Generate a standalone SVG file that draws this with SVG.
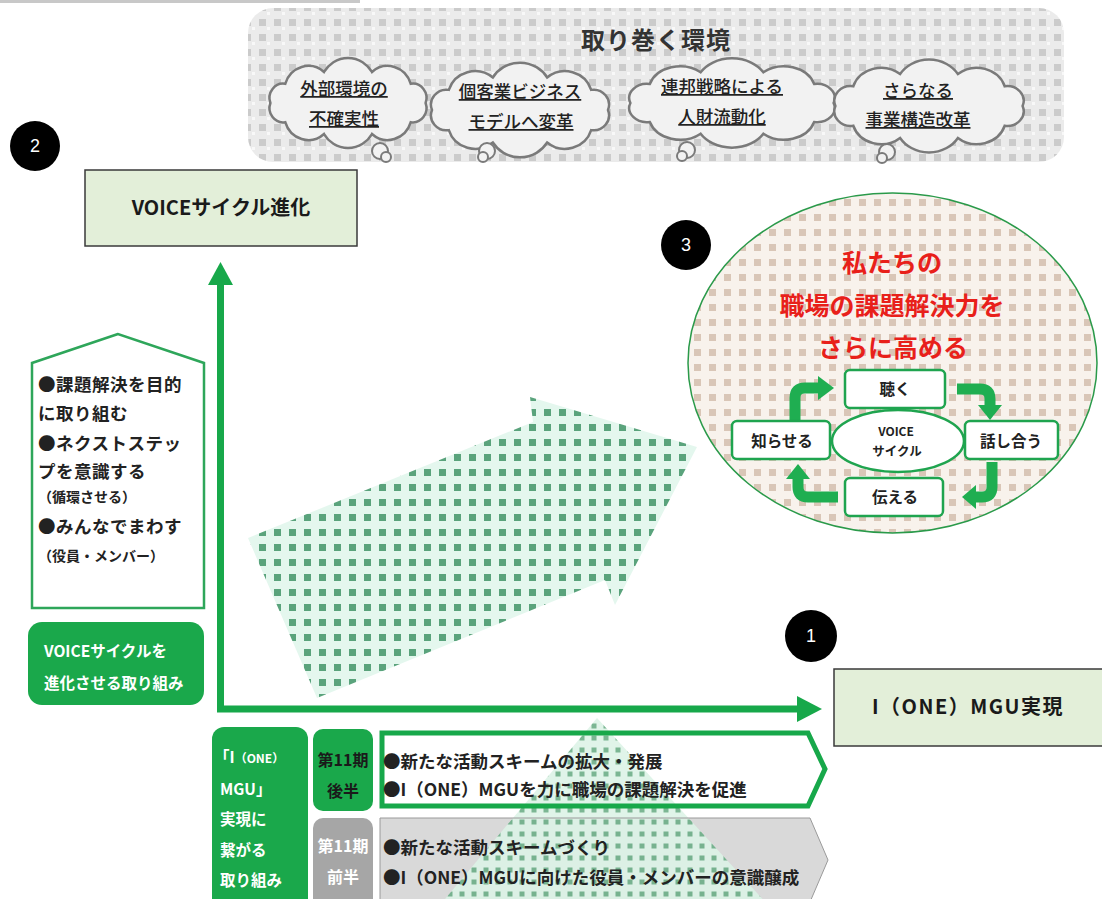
<svg xmlns="http://www.w3.org/2000/svg" width="1102" height="899" viewBox="0 0 1102 899">
<defs>
<style>
text{font-family:'Noto Sans CJK JP','Noto Sans CJK SC',sans-serif;}
.b{font-weight:bold}
.cl{fill:#f2f2f2;stroke:#7a7a7a;stroke-width:2.5}
.ct{font-size:17.5px;font-weight:500;fill:#222;text-anchor:middle;text-decoration:underline}
.num{fill:#000}
.numt{fill:#fff;font-size:18px;text-anchor:middle;font-family:'Liberation Sans',Arial,sans-serif}
.hl{fill:#e3efd9;stroke:#3a3a3a;stroke-width:1.5}
.hlt{font-size:20px;font-weight:bold;fill:#1a1a1a;text-anchor:middle}
.ax{fill:none;stroke:#17a84a;stroke-width:7}
.axh{fill:#17a84a}
.cy{fill:#fff;stroke:#1fa44f;stroke-width:2.5}
.cyt{font-size:15.5px;font-weight:bold;fill:#222;text-anchor:middle}
.ca{fill:none;stroke:#1fae51;stroke-width:11}
.cah{fill:#1fae51}
.red{fill:#e8201a;font-size:25px;font-weight:bold;text-anchor:middle}
.lt{font-size:17.5px;fill:#222;font-weight:bold;letter-spacing:0.5px}
.ls{font-size:14px;fill:#222;font-weight:bold}
.wt{fill:#fff;font-weight:bold}
.dt{fill:#1a1a1a;font-weight:bold}
.bt{font-size:17.5px;fill:#222;font-weight:bold}
.bub{fill:#f2f2f2;stroke:#7a7a7a;stroke-width:2}
</style>
<pattern id="pEnv" width="15" height="15" patternUnits="userSpaceOnUse">
<rect width="15" height="15" fill="#ebebeb"/>
<rect x="4" y="4" width="7" height="7" fill="#cbcbcb"/>
<rect x="12" y="12" width="3" height="3" fill="#f8f8f8"/>
</pattern>
<pattern id="pArrow" width="15" height="15" patternUnits="userSpaceOnUse">
<rect width="15" height="15" fill="#e4f7ee"/>
<rect x="4" y="4" width="7" height="7" fill="#5aa37c"/>
</pattern>
<pattern id="pTri" width="12" height="12" patternUnits="userSpaceOnUse">
<rect width="12" height="12" fill="#dcf3e6"/>
<rect x="3.5" y="3.5" width="5" height="5" fill="#6cae87"/>
</pattern>
<pattern id="pCirc" width="15" height="15" patternUnits="userSpaceOnUse">
<rect width="15" height="15" fill="#f8f2ec"/>
<rect x="4" y="4" width="7" height="7" fill="#d9c6b7"/>
</pattern>
<path id="cloud" vector-effect="non-scaling-stroke" d="M80,0 A14,14 0 0 1 64.7,18.8 A25,25 0 0 1 24.7,30.4 A29,29 0 0 1 -24.7,30.4 A25,25 0 0 1 -64.7,18.8 A14,14 0 0 1 -80,0 A14,14 0 0 1 -64.7,-18.8 A25,25 0 0 1 -24.7,-30.4 A29,29 0 0 1 24.7,-30.4 A25,25 0 0 1 64.7,-18.8 A14,14 0 0 1 80,0 Z"/>
</defs>

<rect width="1102" height="899" fill="#fff"/>
<rect x="0" y="0" width="360" height="3" fill="#c8c8c8"/>

<g id="environment">
<rect x="248" y="8" width="816" height="154" rx="25" fill="url(#pEnv)"/>
<text x="656" y="49" font-size="24" font-weight="bold" fill="#333" text-anchor="middle" letter-spacing="1">取り巻く環境</text>
</g>

<g id="cloud1">
<use href="#cloud" class="cl" transform="translate(348,103) scale(0.97,1.02)"/>
<circle class="bub" cx="380" cy="151" r="8"/>
<circle class="bub" cx="386" cy="157" r="5"/>
<text class="ct" x="344" y="95">外部環境の</text>
<text class="ct" x="344" y="125">不確実性</text>
</g>
<g id="cloud2">
<use href="#cloud" class="cl" transform="translate(520,110) scale(1.1,1.07)"/>
<circle class="bub" cx="487" cy="151" r="8"/>
<circle class="bub" cx="483" cy="157" r="5"/>
<text class="ct" x="520" y="98">個客業ビジネス</text>
<text class="ct" x="521" y="128">モデルへ変革</text>
</g>
<g id="cloud3">
<use href="#cloud" class="cl" transform="translate(732,103) scale(1.27,1.01)"/>
<circle class="bub" cx="687" cy="150" r="8"/>
<circle class="bub" cx="682" cy="156" r="5"/>
<text class="ct" x="722" y="93">連邦戦略による</text>
<text class="ct" x="722" y="123">人財流動化</text>
</g>
<g id="cloud4">
<use href="#cloud" class="cl" transform="translate(929,106) scale(1.17,1.05)"/>
<circle class="bub" cx="887" cy="152" r="8"/>
<circle class="bub" cx="882" cy="158" r="5"/>
<text class="ct" x="918" y="97">さらなる</text>
<text class="ct" x="918" y="126">事業構造改革</text>
</g>

<g id="badge2">
<circle class="num" cx="35" cy="146" r="25"/>
<text class="numt" x="35" y="152">2</text>
</g>
<g id="badge3">
<circle class="num" cx="686" cy="245" r="25"/>
<text class="numt" x="686" y="251">3</text>
</g>
<g id="badge1">
<circle class="num" cx="811" cy="636" r="26"/>
<text class="numt" x="811" y="642">1</text>
</g>

<g id="node-voice-evolution">
<rect class="hl" x="85" y="170" width="272" height="76"/>
<text class="hlt" x="221" y="215">VOICEサイクル進化</text>
</g>

<g id="node-one-mgu">
<rect class="hl" x="834" y="669" width="275" height="77"/>
<text class="hlt" x="968" y="714" letter-spacing="1.5">I（ONE）MGU実現</text>
</g>

<g id="connectors">
<path class="ax" d="M220.5,283 V709 H800"/>
<polygon class="axh" points="220.5,262 208,285 233,285"/>
<polygon class="axh" points="822,709 797,696 797,722"/>
</g>

<g id="big-arrow">
<polygon fill="url(#pArrow)" points="317,698 248,538 533,422 530,397 697,447 615,605 605,580"/>
</g>

<g id="house">
<polygon points="118,334 32,363 32,608 204,608 204,363" fill="#fff" stroke="#2ea65a" stroke-width="2.5"/>
<text class="lt" x="38" y="391">●課題解決を目的</text>
<text class="lt" x="38" y="420">に取り組む</text>
<text class="lt" x="38" y="450">●ネクストステッ</text>
<text class="lt" x="38" y="478">プを意識する</text>
<text class="ls" x="38" y="502">（循環させる）</text>
<text class="lt" x="38" y="533">●みんなでまわす</text>
<text class="ls" x="38" y="561">（役員・メンバー）</text>
</g>

<g id="voice-evolve-label">
<rect x="28" y="622" width="176" height="83" rx="14" fill="#1aa84b"/>
<text class="wt" x="44" y="657" font-size="15.5">VOICEサイクルを</text>
<text class="wt" x="44" y="689" font-size="15.5">進化させる取り組み</text>
</g>

<g id="voice-circle">
<ellipse cx="892.5" cy="363" rx="204.5" ry="170" fill="url(#pCirc)" stroke="#2a9a4a" stroke-width="1.5"/>
<text class="red" x="892" y="272">私たちの</text>
<text class="red" x="892" y="315">職場の課題解決力を</text>
<text class="red" x="893" y="357">さらに高める</text>
</g>

<g id="cycle-arrows">
<path class="ca" d="M795,421 V398 Q795,388 805,388 H819"/>
<polygon class="cah" points="818,376 834,388 818,400"/>
<path class="ca" d="M957,389 H980 Q990,389 990,399 V406"/>
<polygon class="cah" points="978,405 1002,405 990,420"/>
<path class="ca" d="M992,462 V487 Q992,497 982,497 H975"/>
<polygon class="cah" points="976,485 976,509 962,497"/>
<path class="ca" d="M838,497 H808 Q798,497 798,487 V478"/>
<polygon class="cah" points="786,479 810,479 798,464"/>
</g>

<g id="cycle-center">
<ellipse cx="898" cy="441" rx="66" ry="31" fill="#fff" stroke="#1fa44f" stroke-width="2.5"/>
<text x="896" y="436" font-size="12" font-weight="bold" fill="#222" text-anchor="middle">VOICE</text>
<text x="897" y="456" font-size="12.5" font-weight="bold" fill="#222" text-anchor="middle">サイクル</text>
</g>
<g id="cycle-listen">
<rect class="cy" x="845" y="370" width="100" height="38" rx="5"/>
<text class="cyt" x="895" y="395">聴く</text>
</g>
<g id="cycle-inform">
<rect class="cy" x="732" y="421" width="98" height="38" rx="5"/>
<text class="cyt" x="782" y="447">知らせる</text>
</g>
<g id="cycle-discuss">
<rect class="cy" x="965" y="421" width="93" height="38" rx="5"/>
<text class="cyt" x="1011" y="447">話し合う</text>
</g>
<g id="cycle-tell">
<rect class="cy" x="845" y="478" width="98" height="38" rx="5"/>
<text class="cyt" x="895" y="503">伝える</text>
</g>

<g id="bottom-label">
<rect x="212" y="727" width="96" height="190" rx="12" fill="#1aa84b"/>
<text class="wt" x="214" y="763" font-size="15.5">「I<tspan font-size="12">（ONE）</tspan></text>
<text class="wt" x="220" y="795" font-size="15.5">MGU」</text>
<text class="wt" x="220" y="825" font-size="15.5">実現に</text>
<text class="wt" x="220" y="856" font-size="15.5">繋がる</text>
<text class="wt" x="220" y="886" font-size="15.5">取り組み</text>
</g>

<g id="period-late-label">
<rect x="313" y="729" width="60" height="82" rx="10" fill="#1aa84b"/>
<text class="dt" x="343" y="766" font-size="16" text-anchor="middle">第11期</text>
<text class="dt" x="343" y="797" font-size="16" text-anchor="middle">後半</text>
</g>
<g id="period-early-label">
<rect x="313" y="818" width="60" height="100" rx="10" fill="#a6a6a6"/>
<text class="wt" x="343" y="852" font-size="16" text-anchor="middle">第11期</text>
<text class="wt" x="343" y="883" font-size="16" text-anchor="middle">前半</text>
</g>

<g id="period-boxes">
<polygon points="380,818 810,818 828,860 810,902 380,902" fill="#d9d9d9"/>
<polygon points="382,733 808,733 825,769 808,806 382,806" fill="#fff"/>
<polygon fill="url(#pTri)" opacity="0.9" points="597,718 440,905 768,905"/>
<polygon points="380,818 810,818 828,860 810,902 380,902" fill="none" stroke="#9a9a9a" stroke-width="1"/>
<polygon points="382,733 808,733 825,769 808,806 382,806" fill="none" stroke="#17a84a" stroke-width="5"/>
<text class="bt" x="383" y="768">●新たな活動スキームの拡大・発展</text>
<text class="bt" x="383" y="796">●I（ONE）MGUを力に職場の課題解決を促進</text>
<text class="bt" x="383" y="854">●新たな活動スキームづくり</text>
<text class="bt" x="383" y="884">●I（ONE）MGUに向けた役員・メンバーの意識醸成</text>
</g>
</svg>
